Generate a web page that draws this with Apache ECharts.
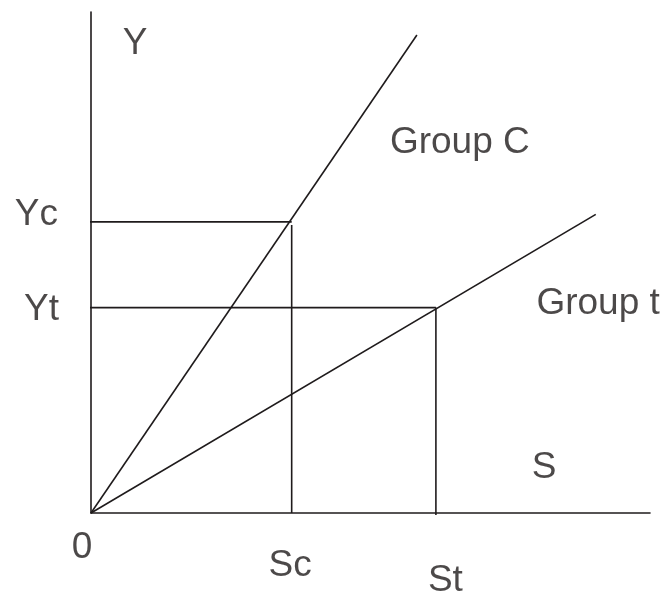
<!DOCTYPE html>
<html>
<head>
<meta charset="utf-8">
<style>
  html, body { margin: 0; padding: 0; background: #ffffff; }
  #chart { width: 663px; height: 596px; }
</style>
<script src="https://cdn.jsdelivr.net/npm/echarts@6/dist/echarts.min.js"></script>
</head>
<body>
<div id="chart"></div>
<script>
// ---- Data (arbitrary units, axes run 0..100) ----
const X_MAX = 100;
const Y_MAX = 100;
const Sc = 35.9, Yc = 58.1;   // Group C operating point
const St = 61.7, Yt = 41.0;   // Group t operating point
const groupCLine = [[0, 0], [58.3, 95.4]];
const groupTLine = [[0, 0], [90.3, 59.6]];
const labelTexts = ['Y', 'Group C', 'Yc', 'Yt', 'Group t', 'S', '0', 'Sc', 'St'];
const labelAnchors = [[0, Y_MAX], groupCLine[1], [0, Yc], [0, Yt], groupTLine[1], [X_MAX, 0], [0, 0], [Sc, 0], [St, 0]];

// ---- Styling ----
const INK = '#1f1b1c';
const FONT = "'Liberation Sans', Arial, Helvetica, sans-serif";
const labelStyle = {
  'Y':       { offset: [44, 31.5],  align: 'center' },
  'Group C': { offset: [-27, 107.5], align: 'left' },
  'Yc':      { offset: [-33, -7],   align: 'right' },
  'Yt':      { offset: [-32, 2],    align: 'right' },
  'Group t': { offset: [64, 89],    align: 'right' },
  'S':       { offset: [-106, -45.5], align: 'center' },
  '0':       { offset: [-9, 34.5],  align: 'center' },
  'Sc':      { offset: [-1.5, 53],  align: 'center' },
  'St':      { offset: [9.5, 68],   align: 'center' }
};

function lineSeries(data) {
  return {
    type: 'line', data: data, symbol: 'none', clip: false, silent: true,
    lineStyle: { color: INK, width: 1.6 }, animation: false
  };
}

const labelData = labelTexts.map((t, i) => ({
  value: labelAnchors[i],
  label: {
    show: true, formatter: t,
    position: [0, 0],
    offset: labelStyle[t].offset,
    align: labelStyle[t].align,
    verticalAlign: 'middle',
    fontSize: 37, fontFamily: FONT, color: INK
  }
}));

const chart = echarts.init(document.getElementById('chart'), null, { renderer: 'canvas' });
chart.setOption({
  backgroundColor: '#ffffff',
  animation: false,
  grid: { left: 91, right: 13, top: 12, bottom: 83, containLabel: false },
  xAxis: {
    type: 'value', min: 0, max: X_MAX,
    axisLine: { show: true, onZero: false, lineStyle: { color: INK, width: 1.6 } },
    axisTick: { show: false }, axisLabel: { show: false }, splitLine: { show: false }
  },
  yAxis: {
    type: 'value', min: 0, max: Y_MAX,
    axisLine: { show: true, onZero: false, lineStyle: { color: INK, width: 1.6 } },
    axisTick: { show: false }, axisLabel: { show: false }, splitLine: { show: false }
  },
  series: [
    lineSeries(groupCLine),
    lineSeries(groupTLine),
    lineSeries([[-0.7, Yc], [Sc, Yc]]),
    lineSeries([[Sc, Yc - 0.6], [Sc, 0]]),
    lineSeries([[-1.8, Yt], [St, Yt]]),
    lineSeries([[St, Yt], [St, -0.4]]),
    {
      type: 'scatter', data: labelData, symbolSize: 0, clip: false, silent: true,
      itemStyle: { color: 'transparent' }, animation: false
    }
  ]
});
</script>
</body>
</html>
